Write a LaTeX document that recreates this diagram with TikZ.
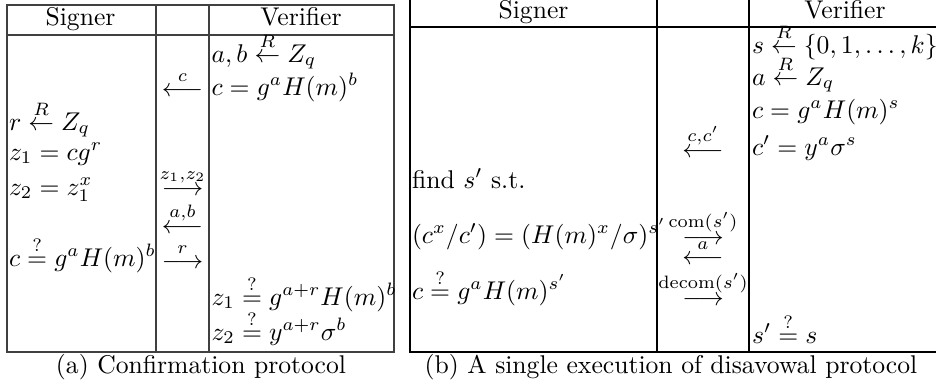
\documentclass[tikz,border=0pt]{standalone}
\usepackage{amsmath}
\begin{document}
\begin{tikzpicture}[x=0.39pt,y=-0.39pt,
    cell/.style={anchor=base west, inner sep=0pt},
    msg/.style={anchor=base, inner sep=0pt},
    head/.style={anchor=base, inner sep=0pt},
    ruleA/.style={draw=black!75, line width=0.4pt},
    ruleB/.style={draw=black, line width=0.4pt}]
    \useasboundingbox (0,0) rectangle (936,387);
    \clip (0,0) rectangle (936,387);

    % (a) confirmation protocol
    \draw[ruleA] (7,5) rectangle (394,352);
    \draw[ruleA] (7,35) -- (394,35) (156,5) -- (156,352) (209,5) -- (209,352);
    \node[head] (sgnA) at (80.5,25) {Signer};
    \node[head] (vfyA) at (301,25) {Verifier};

    \node[cell] (va1) at (211,62) {$a,b \stackrel{R}{\leftarrow} Z_q$};
    \node[cell] (va2) at (211,95) {$c = g^a H(m)^b$};
    \node[msg]  (ma1) at (182.5,96) {$\stackrel{c}{\longleftarrow}$};
    \node[cell] (sa1) at (8.5,130) {$r \stackrel{R}{\leftarrow} Z_q$};
    \node[cell] (sa2) at (8.5,160) {$z_1 = cg^r$};
    \node[cell] (sa3) at (8.5,195) {$z_2 = z_1^x$};
    \node[msg]  (ma2) at (182.5,195) {$\stackrel{z_1,z_2}{\longrightarrow}$};
    \node[msg]  (ma3) at (182.5,233) {$\stackrel{a,b}{\longleftarrow}$};
    \node[cell] (sa4) at (8.5,266) {$c \stackrel{?}{=} g^a H(m)^b$};
    \node[msg]  (ma4) at (182.5,268) {$\stackrel{r}{\longrightarrow}$};
    \node[cell] (va3) at (211,305) {$z_1 \stackrel{?}{=} g^{a+r} H(m)^b$};
    \node[cell] (va4) at (211,340) {$z_2 \stackrel{?}{=} y^{a+r} \sigma^b$};
    \node[head] (capA) at (201,373) {(a) Confirmation protocol};

    % (b) disavowal protocol
    \draw[ruleB] (410,-1) rectangle (940,352);
    \draw[ruleB] (410,27) -- (940,27) (657,-1) -- (657,352) (749,-1) -- (749,352);
    \node[head] (sgnB) at (533.5,18) {Signer};
    \node[head] (vfyB) at (845,18) {Verifier};

    \node[cell] (vb1) at (751.5,53) {$s \stackrel{R}{\leftarrow} \{0,1,\ldots,k\}$};
    \node[cell] (vb2) at (751.5,85) {$a \stackrel{R}{\leftarrow} Z_q$};
    \node[cell] (vb3) at (751.5,118) {$c = g^a H(m)^s$};
    \node[cell] (vb4) at (751.5,155) {$c' = y^a \sigma^s$};
    \node[msg]  (mb1) at (703,157) {$\stackrel{c,c'}{\longleftarrow}$};
    \node[cell] (sb1) at (411.5,188) {find $s'$ s.t.};
    \node[cell] (sb2) at (411.5,243) {$(c^x/c') = (H(m)^x/\sigma)^{s'}$};
    \node[msg]  (mb2) at (703,244) {$\stackrel{\mathrm{com}(s')}{\longrightarrow}$};
    \node[msg]  (mb3) at (703,264) {$\stackrel{a}{\longleftarrow}$};
    \node[cell] (sb3) at (411.5,299) {$c \stackrel{?}{=} g^a H(m)^{s'}$};
    \node[msg]  (mb4) at (703,305) {$\stackrel{\mathrm{decom}(s')}{\longrightarrow}$};
    \node[cell] (vb5) at (751.5,343) {$s' \stackrel{?}{=} s$};
    \node[head] (capB) at (671,373) {(b) A single execution of disavowal protocol};
\end{tikzpicture}
\end{document}
